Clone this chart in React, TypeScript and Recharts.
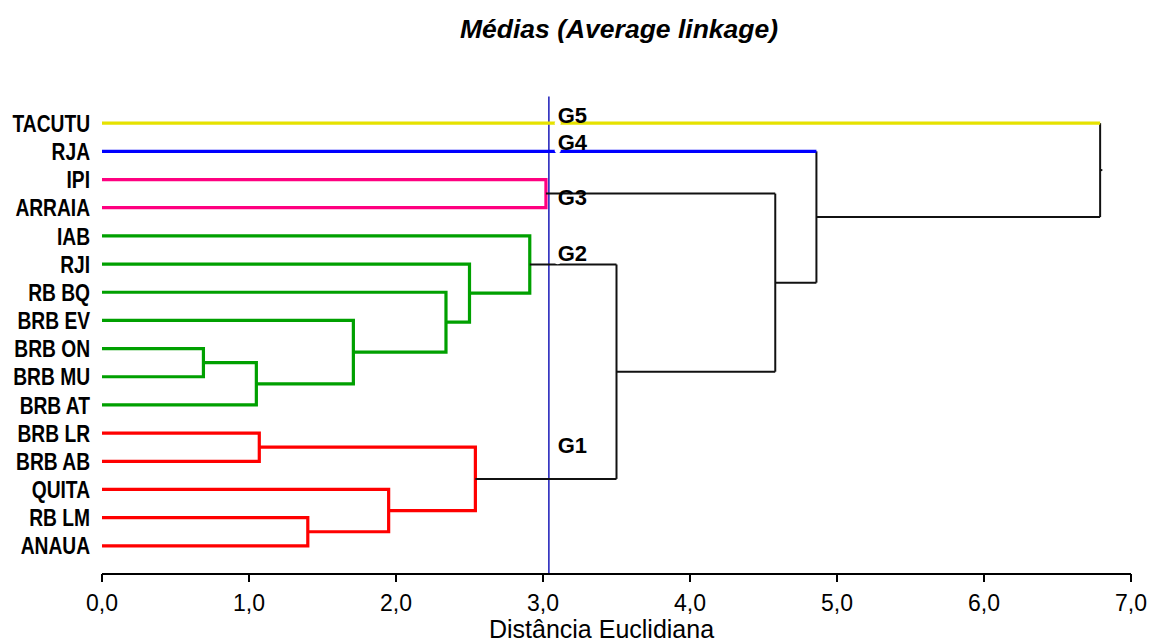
import React from 'react';
import { LineChart, Line, XAxis, YAxis, Label } from 'recharts';

const LEAVES = [
  'TACUTU', 'RJA', 'IPI', 'ARRAIA', 'IAB', 'RJI', 'RB BQ', 'BRB EV',
  'BRB ON', 'BRB MU', 'BRB AT', 'BRB LR', 'BRB AB', 'QUITA', 'RB LM', 'ANAUA',
];
const LEAF_GROUP = [
  'G5', 'G4', 'G3', 'G3', 'G2', 'G2', 'G2', 'G2',
  'G2', 'G2', 'G2', 'G1', 'G1', 'G1', 'G1', 'G1',
];

// merges: node 16 + k joins MERGE_LEFT[k] and MERGE_RIGHT[k] at MERGE_HEIGHT[k]
const MERGE_LEFT   = [8, 16, 11, 14, 7, 13, 6, 5, 18, 4, 2, 25, 26, 1, 0];
const MERGE_RIGHT  = [9, 10, 12, 15, 17, 19, 20, 22, 21, 23, 3, 24, 27, 28, 29];
const MERGE_HEIGHT = [0.69, 1.05, 1.07, 1.40, 1.71, 1.95, 2.34, 2.50, 2.54, 2.91, 3.02, 3.50, 4.58, 4.86, 6.79];

const CUT = 3.04;
const GROUP_LABELS = ['G5', 'G4', 'G3', 'G2', 'G1'];
const GROUP_LABEL_ROW = [0, 0.96, 2.9, 4.9, 11.7];
const X_TICKS = [0, 1, 2, 3, 4, 5, 6, 7];

const GROUP_COLOR: Record<string, string> = {
  G1: '#FF0000',
  G2: '#00A000',
  G3: '#FF0080',
  G4: '#0000FF',
  G5: '#E6E200',
};
const BLACK = '#111';
const FONT = "'Liberation Sans', Arial, sans-serif";

type Pt = { x: number; y: number };
type Seg = { pts: Pt[]; color: string; width: number };

function buildSegments(): Seg[] {
  const n = LEAVES.length;
  const ys: number[] = LEAVES.map((_, i) => i);
  const hs: number[] = LEAVES.map(() => 0);
  const grp: (string | null)[] = [...LEAF_GROUP];
  const segs: Seg[] = [];

  MERGE_HEIGHT.forEach((h, k) => {
    const l = MERGE_LEFT[k];
    const r = MERGE_RIGHT[k];
    const yl = ys[l];
    const yr = ys[r];
    ys[n + k] = (yl + yr) / 2;
    hs[n + k] = h;
    if (h <= CUT) {
      grp[n + k] = grp[l];
      segs.push({
        pts: [
          { x: hs[l], y: yl }, { x: h, y: yl },
          { x: h, y: yr }, { x: hs[r], y: yr },
        ],
        color: GROUP_COLOR[grp[l] as string],
        width: 3.2,
      });
    } else {
      grp[n + k] = null;
      segs.push({ pts: [{ x: h, y: yl }, { x: h, y: yr }], color: BLACK, width: 2 });
      [l, r].forEach((c) => {
        if (c < n) {
          segs.push({ pts: [{ x: 0, y: ys[c] }, { x: h, y: ys[c] }], color: GROUP_COLOR[LEAF_GROUP[c]], width: 3.2 });
        } else {
          segs.push({ pts: [{ x: hs[c], y: ys[c] }, { x: h, y: ys[c] }], color: BLACK, width: 2 });
        }
      });
    }
  });

  const root = n + MERGE_HEIGHT.length - 1;
  segs.push({ pts: [{ x: hs[root], y: ys[root] }, { x: hs[root] + 0.015, y: ys[root] }], color: BLACK, width: 2 });
  return segs;
}

const SEGMENTS = buildSegments();

function LeafTick(props: any) {
  const { x, y, payload } = props;
  return (
    <text
      transform={`translate(${x},${y}) scale(0.8,1)`}
      textAnchor="end"
      dy="0.36em"
      fontSize={24}
      fontWeight="bold"
      fontFamily={FONT}
      fill="#000"
    >
      {LEAVES[payload.value]}
    </text>
  );
}

function DistTick(props: any) {
  const { x, y, payload } = props;
  return (
    <text x={x} y={y} dy={27} textAnchor="middle" fontSize={23} fontFamily={FONT} fill="#000">
      {Number(payload.value).toFixed(1).replace('.', ',')}
    </text>
  );
}

export default function App() {
  return (
    <div style={{ position: 'absolute', left: 0, top: 0, width: 1149, height: 644, background: '#fff' }}>
      <div
        style={{
          position: 'absolute', left: 0, top: 14, width: 1238, textAlign: 'center',
          fontFamily: FONT, fontSize: 26.5, fontWeight: 'bold', fontStyle: 'italic',
          lineHeight: '30px', color: '#000',
        }}
      >
        Médias (Average linkage)
      </div>
      <LineChart width={1149} height={644} margin={{ top: 95, right: 18, bottom: 0, left: 0 }}>
        <XAxis
          type="number"
          dataKey="x"
          domain={[0, 7]}
          ticks={X_TICKS}
          allowDataOverflow
          height={70}
          stroke="#000"
          axisLine={{ stroke: '#000', strokeWidth: 2 }}
          tickLine={{ stroke: '#000', strokeWidth: 2 }}
          tickSize={8}
          tickMargin={2}
          tick={<DistTick />}
        >
          <Label
            content={(p: any) => {
              const vb = p.viewBox;
              return (
                <text x={vb.x + vb.width / 2 - 15} y={vb.y + 64} textAnchor="middle"
                      fontSize={25} fontFamily={FONT} fill="#000">
                  Distância Euclidiana
                </text>
              );
            }}
          />
        </XAxis>
        <YAxis
          type="number"
          dataKey="y"
          domain={[-1, 16]}
          reversed
          ticks={LEAVES.map((_, i) => i)}
          interval={0}
          width={102}
          axisLine={false}
          tickLine={false}
          tickSize={6}
          tickMargin={6}
          tick={<LeafTick />}
        />
        <Line
          data={[{ x: CUT, y: -0.95 }, { x: CUT, y: 16 }]}
          dataKey="y"
          stroke="#1a1ab8"
          strokeWidth={1.5}
          dot={false}
          isAnimationActive={false}
        />
        {SEGMENTS.map((s, i) => (
          <Line
            key={`seg-${i}`}
            data={s.pts}
            dataKey="y"
            stroke={s.color}
            strokeWidth={s.width}
            strokeLinejoin="miter"
            dot={false}
            isAnimationActive={false}
          />
        ))}
        {GROUP_LABELS.map((g, i) => (
          <Line
            key={`lab-${g}`}
            data={[{ x: CUT + 0.06, y: GROUP_LABEL_ROW[i] }]}
            dataKey="y"
            stroke="none"
            dot={false}
            isAnimationActive={false}
            label={(p: any) => (
              <text key={g} x={p.x} y={p.y} fontSize={22} fontWeight="bold" fontFamily={FONT} fill="#000">
                {g}
              </text>
            )}
          />
        ))}
      </LineChart>
    </div>
  );
}
